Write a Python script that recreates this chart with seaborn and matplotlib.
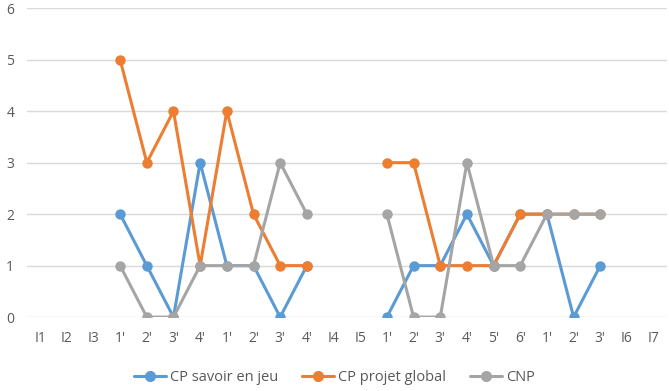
import numpy as np
import pandas as pd
import matplotlib
matplotlib.use('Agg')
import matplotlib.pyplot as plt
from matplotlib.lines import Line2D
import seaborn as sns

# categories on the x axis (labels repeat, so positions are used for plotting)
labels = ["I1", "I2", "I3", "1'", "2'", "3'", "4'", "1'", "2'", "3'", "4'", "I4",
          "I5", "1'", "2'", "3'", "4'", "5'", "6'", "1'", "2'", "3'", "I6", "I7"]

nan = np.nan
savoir = [nan, nan, nan, 2, 1, 0, 3, 1, 1, 0, 1, nan,
          nan, 0, 1, 1, 2, 1, 2, 2, 0, 1, nan, nan]
projet = [nan, nan, nan, 5, 3, 4, 1, 4, 2, 1, 1, nan,
          nan, 3, 3, 1, 1, 1, 2, 2, 2, 2, nan, nan]
cnp = [nan, nan, nan, 1, 0, 0, 1, 1, 1, 3, 2, nan,
       nan, 2, 0, 0, 3, 1, 1, 2, 2, 2, nan, nan]

series_names = ["CP savoir en jeu", "CP projet global", "CNP"]
colors = ["#5B9BD5", "#ED7D31", "#A5A5A5"]

rows = []
for name, vals in zip(series_names, [savoir, projet, cnp]):
    for i, v in enumerate(vals):
        # segment id so lines break at the gaps
        seg = 0 if i < 12 else 1
        rows.append({"pos": i, "value": v, "series": name, "seg": seg})
df = pd.DataFrame(rows).dropna()

sns.set_style("white")
plt.rcParams['font.family'] = ['Open Sans', 'DejaVu Sans']

fig = plt.figure(figsize=(6.69, 3.91), dpi=100)
ax = fig.add_axes([0.040, 0.189, 0.957, 0.790])

sns.lineplot(data=df, x="pos", y="value", hue="series", units="seg",
             estimator=None, palette=colors, hue_order=series_names,
             marker="o", markersize=7.5, markeredgewidth=0, linewidth=2.2,
             legend=False, ax=ax)

ax.set_xlim(-0.5, 23.5)
ax.set_ylim(0, 6)
ax.set_yticks(range(7))
ax.set_xticks(range(len(labels)))
ax.set_xticklabels(labels)
ax.set_xlabel("")
ax.set_ylabel("")
ax.grid(axis="y", color="#D9D9D9", linewidth=1)
ax.set_axisbelow(True)
for s in ax.spines.values():
    s.set_visible(False)
ax.tick_params(axis="both", length=0, labelsize=10, labelcolor="#595959")
ax.tick_params(axis="x", pad=10)
ax.tick_params(axis="y", pad=9)

handles = [Line2D([0], [0], color=c, lw=2.2, marker="o", markersize=8,
                  markeredgewidth=0) for c in colors]
fig.legend(handles, series_names, loc="center", bbox_to_anchor=(0.5, 0.035),
           ncol=3, frameon=False, fontsize=10.5, labelcolor="#595959",
           handlelength=2.2, columnspacing=1.6, handletextpad=0.3)

fig.savefig("out.png", dpi=100)
